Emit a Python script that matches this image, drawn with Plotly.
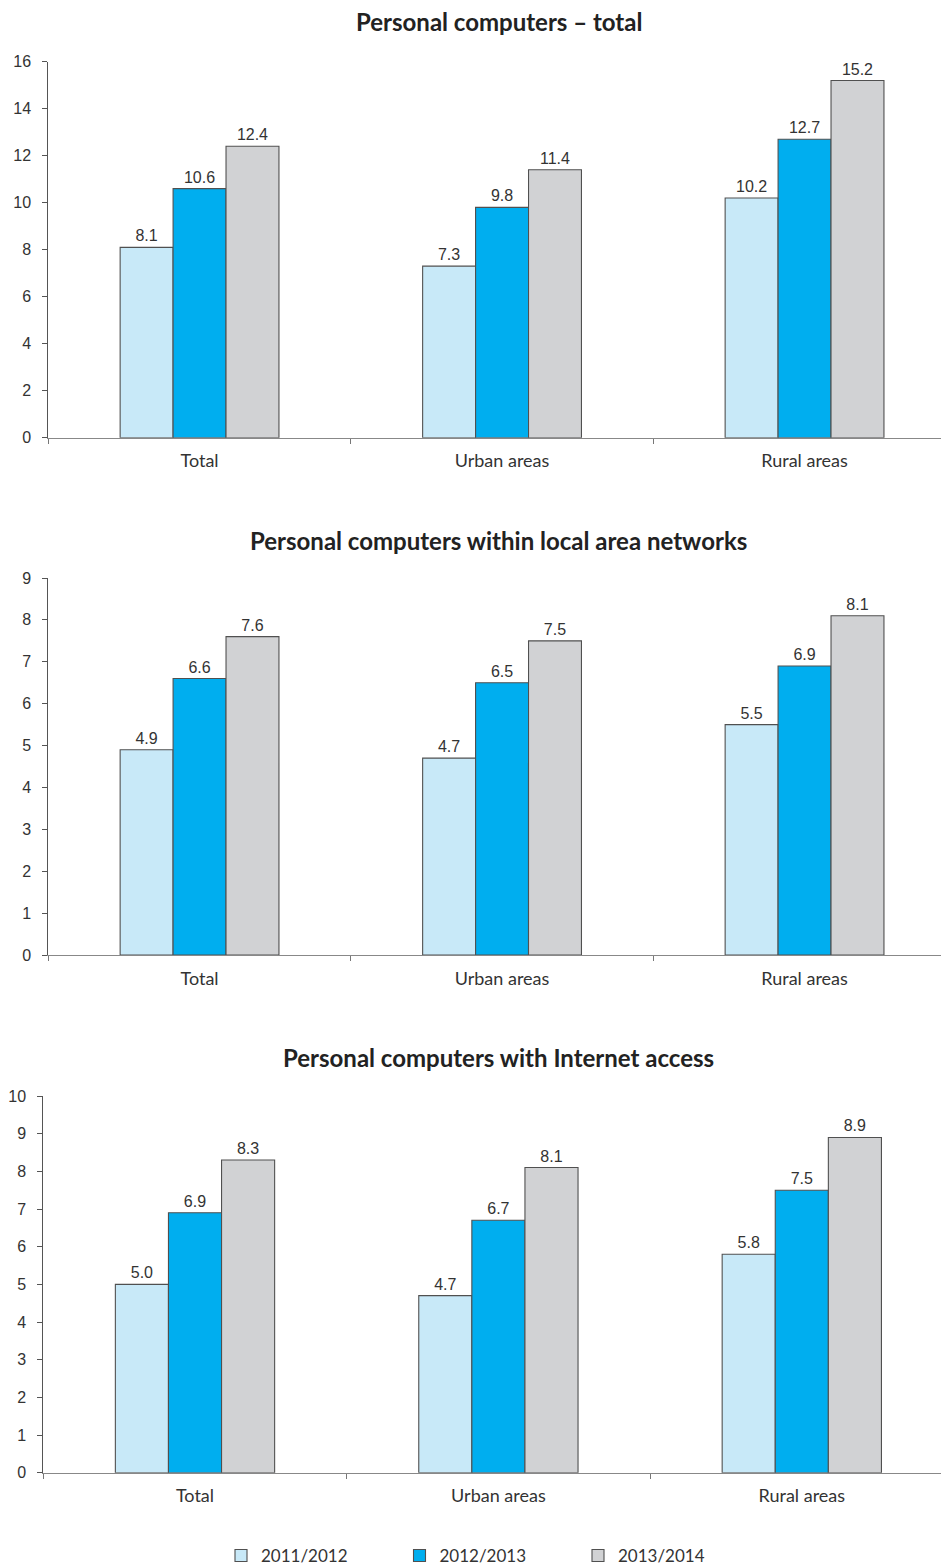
import plotly.graph_objects as go

categories = ["Total", "Urban areas", "Rural areas"]
series_names = ["2011/2012", "2012/2013", "2013/2014"]
series_colors = ["#C8E9F8", "#00AEEF", "#D1D2D4"]

titles = [
    "Personal computers \u2013 total",
    "Personal computers within local area networks",
    "Personal computers with Internet access",
]

pc_total_2011 = [8.1, 7.3, 10.2]
pc_total_2012 = [10.6, 9.8, 12.7]
pc_total_2013 = [12.4, 11.4, 15.2]

pc_lan_2011 = [4.9, 4.7, 5.5]
pc_lan_2012 = [6.6, 6.5, 6.9]
pc_lan_2013 = [7.6, 7.5, 8.1]

pc_net_2011 = [5.0, 4.7, 5.8]
pc_net_2012 = [6.9, 6.7, 7.5]
pc_net_2013 = [8.3, 8.1, 8.9]

y_max = [16, 9, 10]
y_dtick = [2, 1, 1]

panels = [
    [pc_total_2011, pc_total_2012, pc_total_2013],
    [pc_lan_2011, pc_lan_2012, pc_lan_2013],
    [pc_net_2011, pc_net_2012, pc_net_2013],
]

# page is 949x1568; the page body has an 8px margin, so the figure
# is sized to end exactly at the window edges
PAGE_W, PAGE_H = 949, 1568
OFF = 8
W, H = PAGE_W - OFF, PAGE_H - OFF

NUM_FONT = "Liberation Sans Narrow, Arial Narrow, Liberation Sans, Arial, sans-serif"
CAT_FONT = "Lato, Noto Sans, sans-serif"

# geometry measured in page pixels
geo = [
    dict(x0=48.3, top=61.7, bot=437.7, catw=302.5, title_y=22),
    dict(x0=48.3, top=578.0, bot=955.0, catw=302.5, title_y=540),
    dict(x0=43.3, top=1096.0, bot=1472.7, catw=303.4, title_y=1057),
]


def px(x):
    return (x - OFF) / W


def py(y):
    return 1 - (y - OFF) / H


fig = go.Figure()

for p, (vals, g) in enumerate(zip(panels, geo)):
    xa = "x" if p == 0 else f"x{p+1}"
    ya = "y" if p == 0 else f"y{p+1}"
    for s in range(3):
        fig.add_trace(go.Bar(
            x=categories, y=vals[s], name=series_names[s],
            marker=dict(color=series_colors[s], line=dict(color="#505050", width=1.1)),
            text=vals[s], texttemplate="%{y:.1f}", textposition="outside",
            textfont=dict(family=NUM_FONT, size=16, color="#333333"),
            cliponaxis=False,
            xaxis=xa, yaxis=ya,
            showlegend=(p == 0),
            legendgroup=series_names[s],
        ))
    xkey = "xaxis" if p == 0 else f"xaxis{p+1}"
    ykey = "yaxis" if p == 0 else f"yaxis{p+1}"
    vis = (PAGE_W - g["x0"]) / g["catw"]
    fig.update_layout(**{
        xkey: dict(
            domain=[px(g["x0"]), 1.0],
            anchor=ya,
            type="category",
            range=[-0.5, -0.5 + vis],
            tickson="boundaries",
            ticks="outside", ticklen=5, tickcolor="#777777", tickwidth=1,
            showline=True, linecolor="#888888", linewidth=1.2,
            showgrid=False, zeroline=False,
            tickfont=dict(family=CAT_FONT, size=18, color="#333333"),
            ticklabelstandoff=7,
            fixedrange=True,
        ),
        ykey: dict(
            domain=[py(g["bot"]), py(g["top"])],
            anchor=xa,
            range=[0, y_max[p]],
            dtick=y_dtick[p], tick0=0,
            ticks="outside", ticklen=5, tickcolor="#555555", tickwidth=1,
            showline=True, linecolor="#555555", linewidth=1,
            showgrid=False, zeroline=False,
            tickfont=dict(family=NUM_FONT, size=16, color="#333333"),
            ticklabelstandoff=8,
            fixedrange=True,
        ),
    })
    fig.add_annotation(
        text=f"<b>{titles[p]}</b>", xref="paper", yref="paper",
        x=px(498.5), y=py(g["title_y"]), xanchor="center", yanchor="middle",
        showarrow=False, font=dict(family=CAT_FONT, size=24, color="#222222"),
    )

fig.update_layout(
    width=W, height=H,
    margin=dict(l=0, r=0, t=0, b=0, autoexpand=False),
    paper_bgcolor="white", plot_bgcolor="white",
    barmode="group", bargap=0.475, bargroupgap=0,
    legend=dict(
        orientation="h", x=px(221), y=py(1556),
        xanchor="left", yanchor="middle",
        font=dict(family=CAT_FONT, size=17, color="#333333"),
        entrywidth=133.5, entrywidthmode="pixels",
        itemwidth=30, traceorder="normal",
        bgcolor="rgba(0,0,0,0)",
    ),
    showlegend=True,
)

fig.write_html("out.html")
